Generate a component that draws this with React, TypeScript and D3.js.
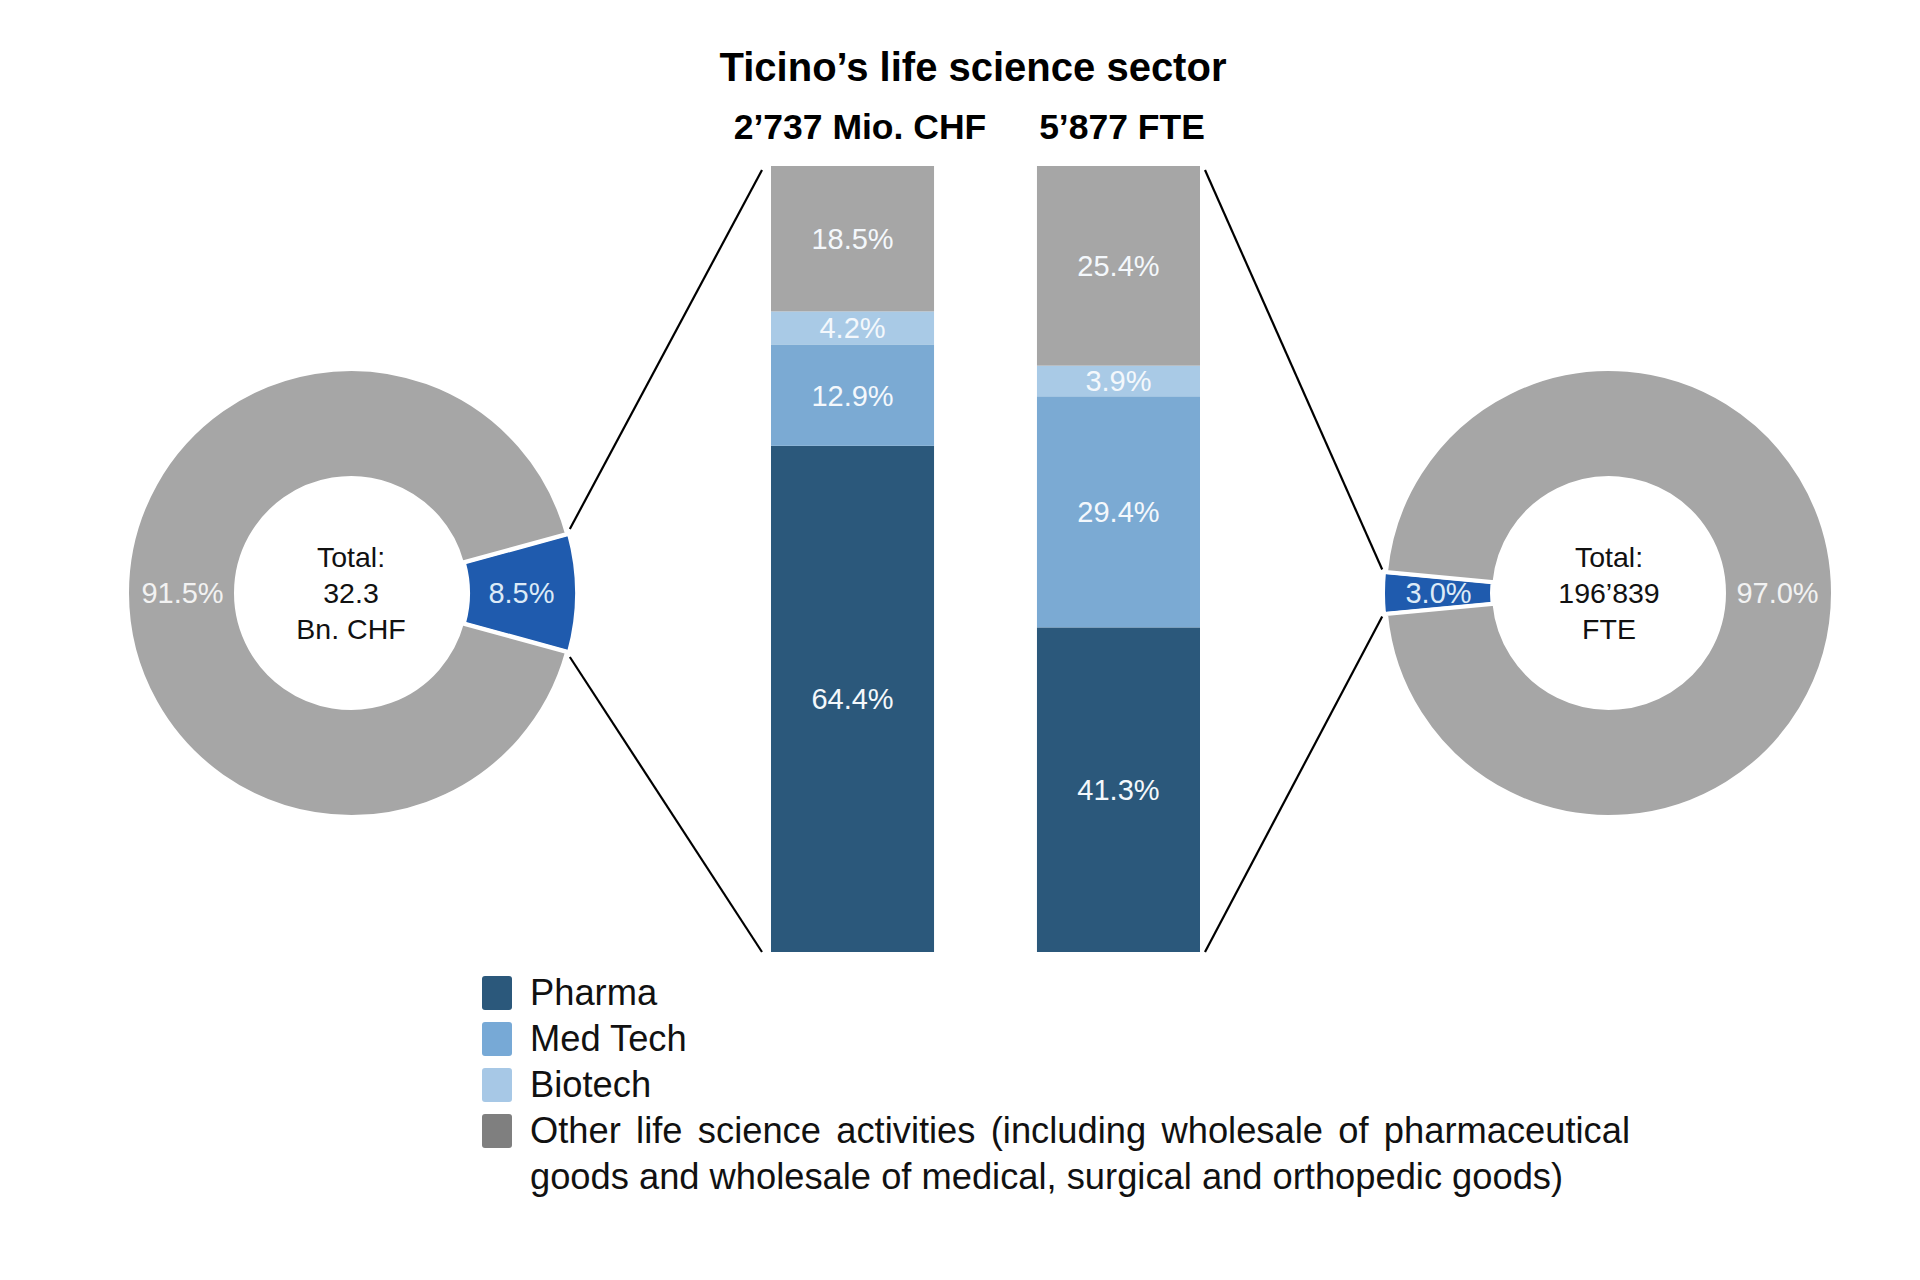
import React, { useRef, useLayoutEffect, useState } from 'react';
import * as d3 from 'd3';

// ---------- data ----------
const categories = ['Pharma', 'Med Tech', 'Biotech', 'Other'];
const legendLines = [
  'Pharma',
  'Med Tech',
  'Biotech',
  'Other life science activities (including wholesale of pharmaceutical',
  'goods and wholesale of medical, surgical and orthopedic goods)',
];
const barKeys = ['chf', 'fte'];
const barTitles = ['2’737 Mio. CHF', '5’877 FTE'];
const chfShares = [64.4, 12.9, 4.2, 18.5];
const fteShares = [41.3, 29.4, 3.9, 25.4];
const revenueDonut = [8.5, 91.5];
const fteDonut = [3.0, 97.0];
const donutTotals = [
  ['Total:', '32.3', 'Bn. CHF'],
  ['Total:', '196’839', 'FTE'],
];
const title = 'Ticino’s life science sector';

// ---------- styles ----------
const FONT = '"Liberation Sans", Arial, sans-serif';
const barColors = ['#2B587B', '#7BAAD3', '#A9CAE6', '#A6A6A6'];
const legendColors = ['#2B587B', '#77A9D6', '#A7C8E6', '#7F7F7F'];
const donutColors = ['#1F5BAE', '#A6A6A6'];

const W = 1920;
const H = 1280;

export default function App() {
  const fmt = (v: number) => d3.format('.1f')(v) + '%';

  // bars
  const x = d3.scaleBand<string>().domain(barKeys).range([771, 1200]).paddingInner(0.387).paddingOuter(0);
  const y = d3.scaleLinear().domain([0, 100]).range([952, 166]);
  const table = barKeys.map((k, i) => {
    const src = i === 0 ? chfShares : fteShares;
    const row: any = { key: k };
    categories.forEach((c, j) => (row[c] = src[j]));
    return row;
  });
  const stacked = d3.stack<any>().keys(categories)(table);

  // donuts
  const R = 224;
  const r = 115;
  const arc = d3.arc<any>().innerRadius(r).outerRadius(R);
  const labelArc = d3.arc<any>().innerRadius((r + R) / 2 - 1).outerRadius((r + R) / 2 - 1);
  const donuts = [
    { cx: 351, cy: 593, values: revenueDonut, center: Math.PI / 2, totals: donutTotals[0] },
    { cx: 1609, cy: 593, values: fteDonut, center: (3 * Math.PI) / 2, totals: donutTotals[1] },
  ];

  const lineRef = useRef<SVGTextElement>(null);
  const [ws, setWs] = useState(0);
  useLayoutEffect(() => {
    const el = lineRef.current;
    if (!el) return;
    const len = el.getComputedTextLength();
    const n = (legendLines[3].match(/ /g) || []).length;
    setWs((1100 - len) / n);
  }, []);

  return (
    <svg width={W} height={H} style={{ position: 'absolute', left: 0, top: 0, background: '#fff' }} fontFamily={FONT}>
      <rect x={0} y={0} width={W} height={H} fill="#fff" />
      <text x={973} y={81} textAnchor="middle" fontSize={40} fontWeight="bold" fill="#000">
        {title}
      </text>
      <text x={860} y={139} textAnchor="middle" fontSize={35.5} fontWeight="bold" fill="#000">
        {barTitles[0]}
      </text>
      <text x={1122} y={139} textAnchor="middle" fontSize={35.5} fontWeight="bold" fill="#000">
        {barTitles[1]}
      </text>

      {/* stacked bars */}
      {stacked.map((layer, li) => (
        <g key={layer.key}>
          {layer.map((d: any, bi: number) => {
            const bx = x(barKeys[bi])!;
            const y0 = y(d[0]);
            const y1 = y(d[1]);
            return (
              <g key={bi}>
                <rect x={bx} y={y1} width={x.bandwidth()} height={y0 - y1} fill={barColors[li]} />
                <text
                  x={bx + x.bandwidth() / 2}
                  y={(y0 + y1) / 2}
                  dy="0.36em"
                  textAnchor="middle"
                  fontSize={29}
                  fill="#F4F8FC"
                >
                  {fmt(d[1] - d[0])}
                </text>
              </g>
            );
          })}
        </g>
      ))}

      {/* donuts */}
      {donuts.map((dn, di) => {
        const frac = dn.values[0] / d3.sum(dn.values);
        const start = dn.center - frac * Math.PI;
        const pie = d3
          .pie<number>()
          .sort(null)
          .value((v) => v)
          .startAngle(start)
          .endAngle(start + 2 * Math.PI);
        const arcs = pie(dn.values);
        const half = frac * Math.PI;
        const delta = di === 0 ? (1 * Math.PI) / 180 : (0.5 * Math.PI) / 180;
        const rho = R + 4;
        const pt = (a: number) => [dn.cx + rho * Math.sin(a), dn.cy - rho * Math.cos(a)];
        const pA = pt(dn.center - half - delta);
        const pB = pt(dn.center + half + delta);
        const bx = x(barKeys[di])!;
        const barEdge = di === 0 ? bx - 9 : bx + x.bandwidth() + 5;
        const topPt = di === 0 ? pA : pB;
        const botPt = di === 0 ? pB : pA;
        return (
          <g key={di}>
            <line x1={barEdge} y1={y(100) + 4} x2={topPt[0]} y2={topPt[1]} stroke="#000" strokeWidth={2.2} />
            <line x1={barEdge} y1={y(0)} x2={botPt[0]} y2={botPt[1]} stroke="#000" strokeWidth={2.2} />
            <g transform={`translate(${dn.cx},${dn.cy})`}>
              {arcs.map((a, ai) => {
                const off = ai === 0 ? 2 : 0;
                const mid = (a.startAngle + a.endAngle) / 2;
                const tx = off * Math.sin(mid);
                const ty = -off * Math.cos(mid);
                const c = labelArc.centroid(a);
                return (
                  <g key={ai} transform={`translate(${tx},${ty})`}>
                    <path d={arc(a) as string} fill={donutColors[ai]} stroke="#fff" strokeWidth={4} />
                    <text
                      x={c[0]}
                      y={c[1]}
                      dy="0.36em"
                      textAnchor="middle"
                      fontSize={29}
                      fill={ai === 0 ? '#DCEAF7' : '#F2F2F2'}
                    >
                      {fmt(dn.values[ai])}
                    </text>
                  </g>
                );
              })}
              {dn.totals.map((t, ti) => (
                <text key={ti} x={0} y={-26 + ti * 36} textAnchor="middle" fontSize={28.5} fill="#111">
                  {t}
                </text>
              ))}
            </g>
          </g>
        );
      })}

      {/* legend */}
      {categories.map((c, i) => (
        <rect key={c} x={482} y={976 + i * 46} width={30} height={34} rx={3} fill={legendColors[i]} />
      ))}
      {legendLines.map((t, i) => (
        <text
          key={i}
          ref={i === 3 ? lineRef : undefined}
          x={530}
          y={1005 + i * 46}
          fontSize={36.3}
          fill="#111"
          wordSpacing={i === 3 ? ws : 0}
        >
          {t}
        </text>
      ))}
    </svg>
  );
}
